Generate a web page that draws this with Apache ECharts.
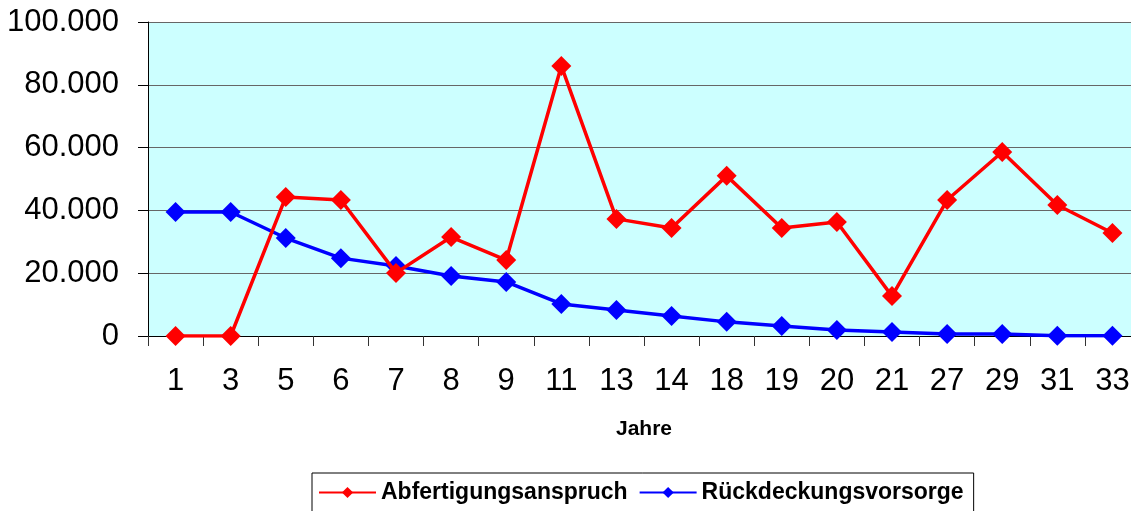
<!DOCTYPE html>
<html>
<head>
<meta charset="utf-8">
<script src="https://cdn.jsdelivr.net/npm/echarts@6/dist/echarts.min.js"></script>
<style>html,body{margin:0;padding:0;background:#fff;}#c{width:1131px;height:511px;}</style>
</head>
<body>
<div id="c"></div>
<script>
const categories = ['1','3','5','6','7','8','9','11','13','14','18','19','20','21','27','29','31','33'];
const abfertigung = [0,0,44300,43300,20100,31500,24200,86000,37300,34400,51000,34400,36300,12700,43300,58600,41700,32800];
const rueckdeckung = [39500,39500,31200,24800,22300,19100,17200,10200,8300,6400,4500,3200,1900,1300,600,600,100,100];
const yTicks = {min:0, max:100000, interval:20000};

const chart = echarts.init(document.getElementById('c'));
const fmt = v => v === 0 ? '0' : (v/1000).toFixed(0) + '.000';
chart.setOption({
  animation:false,
  textStyle:{fontFamily:'Liberation Sans, Arial, sans-serif'},
  grid:{left:148, top:22, width:992, bottom:175, show:true, backgroundColor:'#CCFFFF', borderWidth:0,
        outerBoundsMode:'none', containLabel:false},
  legend:{
    left:312, top:473,
    padding:[8,10,20,6],
    borderColor:'#000', borderWidth:1,
    itemWidth:57, itemHeight:14, itemGap:11,
    textStyle:{fontSize:23, fontWeight:'bold', color:'#000', fontFamily:'Liberation Sans, Arial, sans-serif'},
    data:['Abfertigungsanspruch','Rückdeckungsvorsorge']
  },
  xAxis:{
    type:'category', data:categories, boundaryGap:true,
    name:'Jahre', nameLocation:'middle', nameGap:83,
    nameTextStyle:{fontSize:21, fontWeight:'bold', color:'#000'},
    axisLine:{lineStyle:{color:'#000', width:1}},
    axisTick:{show:true, length:10, lineStyle:{color:'#333'}},
    axisLabel:{fontSize:31, color:'#000', margin:30}
  },
  yAxis:{
    type:'value', min:yTicks.min, max:yTicks.max, interval:yTicks.interval,
    axisLine:{show:true, lineStyle:{color:'#000', width:1}},
    axisTick:{show:true, length:10, lineStyle:{color:'#000'}},
    splitLine:{lineStyle:{color:'#666', width:1}},
    axisLabel:{fontSize:31, color:'#000', margin:29, formatter:fmt}
  },
  series:[
    {name:'Abfertigungsanspruch', type:'line', data:abfertigung, symbol:'diamond', symbolSize:20,
     lineStyle:{color:'#FF0000', width:3.5}, itemStyle:{color:'#FF0000'}, z:3},
    {name:'Rückdeckungsvorsorge', type:'line', data:rueckdeckung, symbol:'diamond', symbolSize:20,
     lineStyle:{color:'#0000FF', width:3.5}, itemStyle:{color:'#0000FF'}, z:2}
  ]
});
</script>
</body>
</html>
